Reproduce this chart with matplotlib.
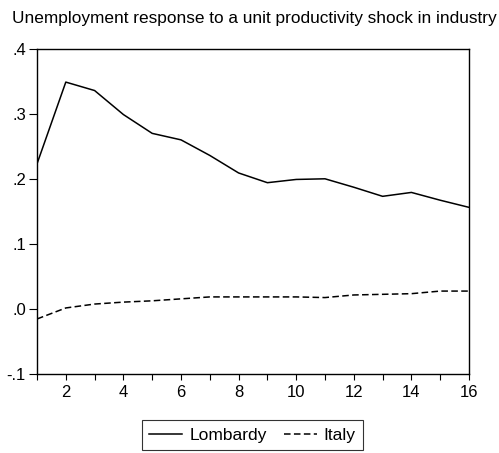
import matplotlib
matplotlib.use("Agg")
import matplotlib.pyplot as plt
from matplotlib.ticker import FuncFormatter, MultipleLocator

plt.rcParams["font.family"] = ["Liberation Sans", "DejaVu Sans"]

periods = list(range(1, 17))
lombardy = [0.223, 0.349, 0.336, 0.299, 0.270, 0.260, 0.236, 0.209,
            0.194, 0.199, 0.200, 0.187, 0.173, 0.179, 0.167, 0.156]
italy = [-0.016, 0.001, 0.007, 0.010, 0.012, 0.015, 0.018, 0.018,
         0.018, 0.018, 0.017, 0.021, 0.022, 0.023, 0.027, 0.027]

W, H = 499, 453
fig = plt.figure(figsize=(W / 100, H / 100), dpi=100)
ax = fig.add_axes([37 / W, 1 - 373.5 / H, (469 - 37) / W, (373.5 - 49) / H])

ax.plot(periods, lombardy, color="black", lw=1.1, label="Lombardy")
ax.plot(periods, italy, color="black", lw=1.1, ls=(0, (4.3, 2.2)), label="Italy")

ax.set_xlim(1, 16)
ax.set_ylim(-0.1, 0.4)
ax.xaxis.set_major_locator(MultipleLocator(2))
ax.xaxis.set_minor_locator(MultipleLocator(1))
ax.yaxis.set_major_locator(MultipleLocator(0.1))
ax.yaxis.set_major_formatter(FuncFormatter(lambda v, p: f"{v:.1f}".replace("0.", ".")))
ax.tick_params(axis="both", which="both", direction="out", width=0.8,
               labelsize=12, top=False, right=False)
ax.tick_params(axis="x", which="both", length=4.5, pad=3.5)
ax.tick_params(axis="y", length=5.5, pad=2.5)
for s in ax.spines.values():
    s.set_linewidth(1.0)

fig.text(12 / W, 1 - 23.5 / H, "Unemployment response to a unit productivity shock in industry",
         fontsize=12.4, va="baseline", ha="left")

leg = ax.legend(loc="center", bbox_to_anchor=(252.5 / W, 1 - 435 / H),
                bbox_transform=fig.transFigure, ncol=2, frameon=True,
                fancybox=False, edgecolor="black", fontsize=12.5,
                handlelength=1.9, columnspacing=1.0, handletextpad=0.4,
                borderpad=0.4, borderaxespad=0)
leg.get_frame().set_linewidth(0.8)

fig.savefig("out.png", dpi=100)
